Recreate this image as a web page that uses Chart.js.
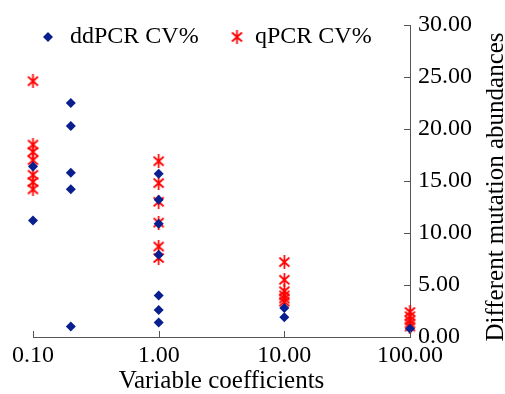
<!DOCTYPE html>
<html>
<head>
<meta charset="utf-8">
<script src="https://cdn.jsdelivr.net/npm/chart.js@4.4.0/dist/chart.umd.min.js"></script>
<style>
  html, body { margin: 0; padding: 0; background: #fff; }
  #wrap { width: 505px; height: 394px; }
</style>
</head>
<body>
<div id="wrap"><canvas id="cvChart"></canvas></div>
<script>
// mutation abundance levels and the CV% readings at each level
const abundances = [0.1, 0.2, 1, 10, 100];
const ddpcrCV = [
    [16.4, 11.2],
    [22.5, 20.3, 15.8, 14.2, 1.0],
    [15.7, 13.2, 10.9, 7.9, 4.0, 2.6, 1.4],
    [2.8, 1.9],
    [0.8]
];
const qpcrCV = [
    [24.6, 18.5, 17.8, 17.0, 15.6, 14.9, 14.2],
    [],
    [16.9, 14.8, 13.0, 11.0, 8.7, 7.6],
    [7.2, 5.5, 4.4, 4.0, 3.7, 3.4],
    [2.4, 2.0, 1.6, 1.3, 1.0]
];
const xTicks = [0.1, 1, 10, 100];
const yTicks = [0, 5, 10, 15, 20, 25, 30];

const FONT = '"Liberation Serif", "Times New Roman", serif';
const axisColor = '#555555';
const blue = '#0a1f8f';
const red = '#ff0000';

function toPoints(groups) {
    return groups.flatMap((vals, i) => vals.map(v => ({ x: abundances[i], y: v })));
}

// asterisk marker: an X with a vertical stroke
function starMarker(color) {
    const c = document.createElement('canvas');
    c.width = 13;
    c.height = 14;
    const g = c.getContext('2d');
    g.strokeStyle = color;
    g.lineWidth = 1.7;
    g.beginPath();
    g.moveTo(1.5, 2.5); g.lineTo(11.5, 11.5);
    g.moveTo(11.5, 2.5); g.lineTo(1.5, 11.5);
    g.moveTo(6.5, 0); g.lineTo(6.5, 14);
    g.stroke();
    return c;
}
const star = starMarker(red);

// tick marks pointing into the plot, legend and right-hand axis title
const extras = {
    id: 'extras',
    afterDraw(chart) {
        const { ctx, scales: { x, y } } = chart;
        ctx.save();
        ctx.strokeStyle = axisColor;
        ctx.lineWidth = 1;
        ctx.beginPath();
        xTicks.forEach(v => {
            const px = Math.round(x.getPixelForValue(v)) + 0.5;
            ctx.moveTo(px, y.bottom);
            ctx.lineTo(px, y.bottom - 6);
        });
        yTicks.forEach(v => {
            const py = Math.round(y.getPixelForValue(v)) + 0.5;
            ctx.moveTo(x.right, py);
            ctx.lineTo(x.right - 6, py);
        });
        ctx.stroke();

        const items = [
            { ds: 0, mx: 48, tx: 70 },
            { ds: 1, mx: 237, tx: 255 }
        ];
        ctx.font = '24px ' + FONT;
        ctx.textBaseline = 'middle';
        ctx.textAlign = 'left';
        items.forEach(it => {
            const ds = chart.data.datasets[it.ds];
            ctx.fillStyle = ds.backgroundColor;
            ctx.strokeStyle = ds.borderColor;
            Chart.helpers.drawPoint(ctx, {
                pointStyle: ds.pointStyle, radius: ds.pointRadius, rotation: 0, borderWidth: 0
            }, it.mx, 37);
            ctx.fillStyle = '#000';
            ctx.fillText(ds.label, it.tx, 37);
        });

        ctx.font = '25px ' + FONT;
        ctx.textAlign = 'center';
        ctx.textBaseline = 'alphabetic';
        ctx.translate(503, 187);
        ctx.rotate(-Math.PI / 2);
        ctx.fillText('Different mutation abundances', 0, 0);
        ctx.restore();
    }
};

const cvChart = document.getElementById('cvChart');

new Chart(cvChart, {
    type: 'scatter',
    data: {
        datasets: [{
                label: 'ddPCR CV%',
                data: toPoints(ddpcrCV),
                pointStyle: 'rectRot',
                pointRadius: 5,
                backgroundColor: blue,
                borderColor: blue,
                borderWidth: 0,
                clip: false
            },
            {
                label: 'qPCR CV%',
                data: toPoints(qpcrCV),
                pointStyle: star,
                pointRadius: 6,
                backgroundColor: red,
                borderColor: red,
                clip: false
            }
        ]
    },
    options: {
        responsive: true,
        maintainAspectRatio: false,
        animation: false,
        layout: {
            padding: { left: 33, right: 33, top: 25, bottom: 0 }
        },
        plugins: {
            legend: { display: false },
            tooltip: { enabled: false }
        },
        scales: {
            x: {
                type: 'logarithmic',
                min: 0.1,
                max: 100,
                afterBuildTicks: s => { s.ticks = xTicks.map(v => ({ value: v })); },
                afterFit: s => { s.height = 57; },
                grid: { display: false, drawTicks: false },
                border: { display: true, color: axisColor, width: 1 },
                ticks: {
                    padding: 4,
                    color: '#000',
                    font: { family: FONT, size: 24 },
                    maxRotation: 0,
                    callback: v => Number(v).toFixed(2)
                },
                title: {
                    display: true,
                    text: 'Variable coefficients',
                    color: '#000',
                    font: { family: FONT, size: 25, lineHeight: 1 },
                    padding: { top: 0, bottom: 0 }
                }
            },
            y: {
                position: 'right',
                min: 0,
                max: 30,
                afterBuildTicks: s => { s.ticks = yTicks.map(v => ({ value: v })); },
                afterFit: s => { s.width = 62; },
                grid: { display: false, drawTicks: false },
                border: { display: true, color: axisColor, width: 1 },
                ticks: {
                    padding: 8,
                    color: '#000',
                    font: { family: FONT, size: 24 },
                    callback: v => Number(v).toFixed(2)
                }
            }
        }
    },
    plugins: [extras]
});
</script>
</body>
</html>
